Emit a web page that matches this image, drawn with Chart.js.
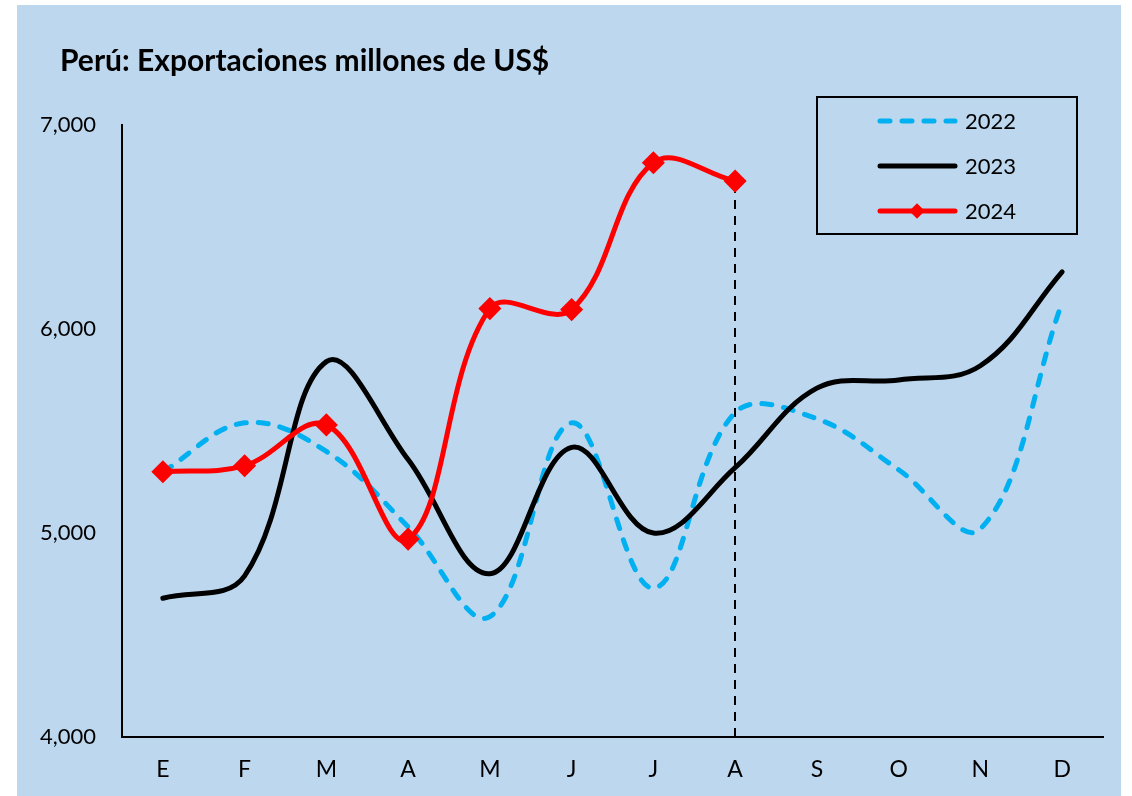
<!DOCTYPE html>
<html>
<head>
<meta charset="utf-8">
<title>Perú: Exportaciones</title>
<script src="https://cdn.jsdelivr.net/npm/chart.js@4/dist/chart.umd.min.js"></script>
<style>
  html, body { margin: 0; padding: 0; background: #ffffff; }
  #wrap { position: relative; width: 1132px; height: 796px; }
</style>
</head>
<body>
<div id="wrap"><canvas id="exportChart"></canvas></div>
<script>
// Months (Spanish initials)
const months = ['E', 'F', 'M', 'A', 'M', 'J', 'J', 'A', 'S', 'O', 'N', 'D'];

// Exports, millions of US$
const exports2022 = [5300, 5540, 5400, 5030, 4590, 5540, 4730, 5590, 5560, 5310, 5020, 6130];
const exports2023 = [4680, 4790, 5840, 5360, 4800, 5420, 5000, 5320, 5710, 5750, 5820, 6280];
const exports2024 = [5300, 5330, 5530, 4970, 6100, 6095, 6815, 6725];

const yTicks = [4000, 5000, 6000, 7000];
const chartTitle = 'Perú: Exportaciones millones de US$';
const cutMonth = 7; // last month with 2024 data (A)

const FONT = 'Lato, "Open Sans", sans-serif';

// blue panel behind the whole chart
const panelBg = {
    id: 'panelBg',
    beforeDraw(chart) {
        const ctx = chart.ctx;
        ctx.save();
        ctx.fillStyle = '#BDD7EE';
        ctx.fillRect(17, 5, 1104, 791);
        ctx.restore();
    }
};

// dashed vertical line at the latest 2024 month, up to its value
const cutLine = {
    id: 'cutLine',
    beforeDatasetsDraw(chart) {
        const { ctx, scales: { x, y } } = chart;
        const px = Math.round(x.getPixelForValue(cutMonth));
        ctx.save();
        ctx.strokeStyle = '#000';
        ctx.lineWidth = 2;
        ctx.setLineDash([9, 7]);
        ctx.beginPath();
        ctx.moveTo(px, y.getPixelForValue(yTicks[0]));
        ctx.lineTo(px, y.getPixelForValue(exports2024[cutMonth]));
        ctx.stroke();
        ctx.restore();
    }
};

// title + boxed legend, drawn like the spreadsheet version
const titleAndLegend = {
    id: 'titleAndLegend',
    afterDraw(chart) {
        const ctx = chart.ctx;
        ctx.save();
        ctx.fillStyle = '#000';
        ctx.font = 'bold 30px ' + FONT;
        ctx.textBaseline = 'middle';
        ctx.textAlign = 'left';
        ctx.fillText(chartTitle, 60, 61);

        // legend box
        ctx.strokeStyle = '#000';
        ctx.lineWidth = 2;
        ctx.strokeRect(817, 97, 260, 137);

        chart.data.datasets.forEach((ds, i) => {
            const y = 121 + i * 45;
            ctx.save();
            ctx.strokeStyle = ds.borderColor;
            ctx.lineWidth = ds.borderWidth;
            ctx.lineCap = 'round';
            ctx.setLineDash(ds.borderDash || []);
            ctx.beginPath();
            ctx.moveTo(880, y);
            ctx.lineTo(955, y);
            ctx.stroke();
            ctx.restore();
            if (ds.pointRadius > 0) {
                ctx.save();
                ctx.fillStyle = ds.pointBackgroundColor;
                ctx.translate(917, y);
                ctx.rotate(Math.PI / 4);
                ctx.fillRect(-5.5, -5.5, 11, 11);
                ctx.restore();
            }
            ctx.fillStyle = '#000';
            ctx.font = '22px ' + FONT;
            ctx.fillText(ds.label, 965, y + 1);
        });
        ctx.restore();
    }
};

const ctx = document.getElementById('exportChart').getContext('2d');

new Chart(ctx, {
    type: 'line',
    data: {
        labels: months,
        datasets: [
            {
                label: '2022',
                data: exports2022,
                borderColor: '#00B0F0',
                borderWidth: 5,
                borderDash: [10, 12],
                borderCapStyle: 'round',
                pointRadius: 0,
                tension: 0.38,
                order: 3
            },
            {
                label: '2023',
                data: exports2023,
                borderColor: '#000000',
                borderWidth: 5,
                borderCapStyle: 'round',
                pointRadius: 0,
                tension: 0.38,
                order: 2
            },
            {
                label: '2024',
                data: exports2024,
                borderColor: '#FF0000',
                borderWidth: 5,
                borderCapStyle: 'round',
                pointStyle: 'rectRot',
                pointRadius: 8,
                pointBackgroundColor: '#FF0000',
                pointBorderColor: '#FF0000',
                tension: 0.38,
                order: 1
            }
        ]
    },
    options: {
        responsive: true,
        maintainAspectRatio: false,
        animation: false,
        layout: {
            padding: { left: 0, right: 29, top: 125, bottom: 0 }
        },
        plugins: {
            legend: { display: false },
            title: { display: false },
            tooltip: { enabled: false }
        },
        scales: {
            x: {
                offset: true,
                grid: { display: false, drawTicks: false },
                border: { display: true, color: '#000', width: 2 },
                ticks: {
                    color: '#000',
                    padding: 19,
                    font: { family: FONT, size: 23 }
                },
                afterFit(scale) { scale.height = 59; }
            },
            y: {
                min: yTicks[0],
                max: yTicks[yTicks.length - 1],
                grid: { display: false, drawTicks: false },
                border: { display: true, color: '#000', width: 2 },
                afterBuildTicks(scale) { scale.ticks = yTicks.map(v => ({ value: v })); },
                ticks: {
                    color: '#000',
                    padding: 26,
                    font: { family: FONT, size: 22 },
                    callback: v => v.toLocaleString('en-US')
                },
                afterFit(scale) { scale.width = 122; }
            }
        }
    },
    plugins: [panelBg, cutLine, titleAndLegend]
});
</script>
</body>
</html>
